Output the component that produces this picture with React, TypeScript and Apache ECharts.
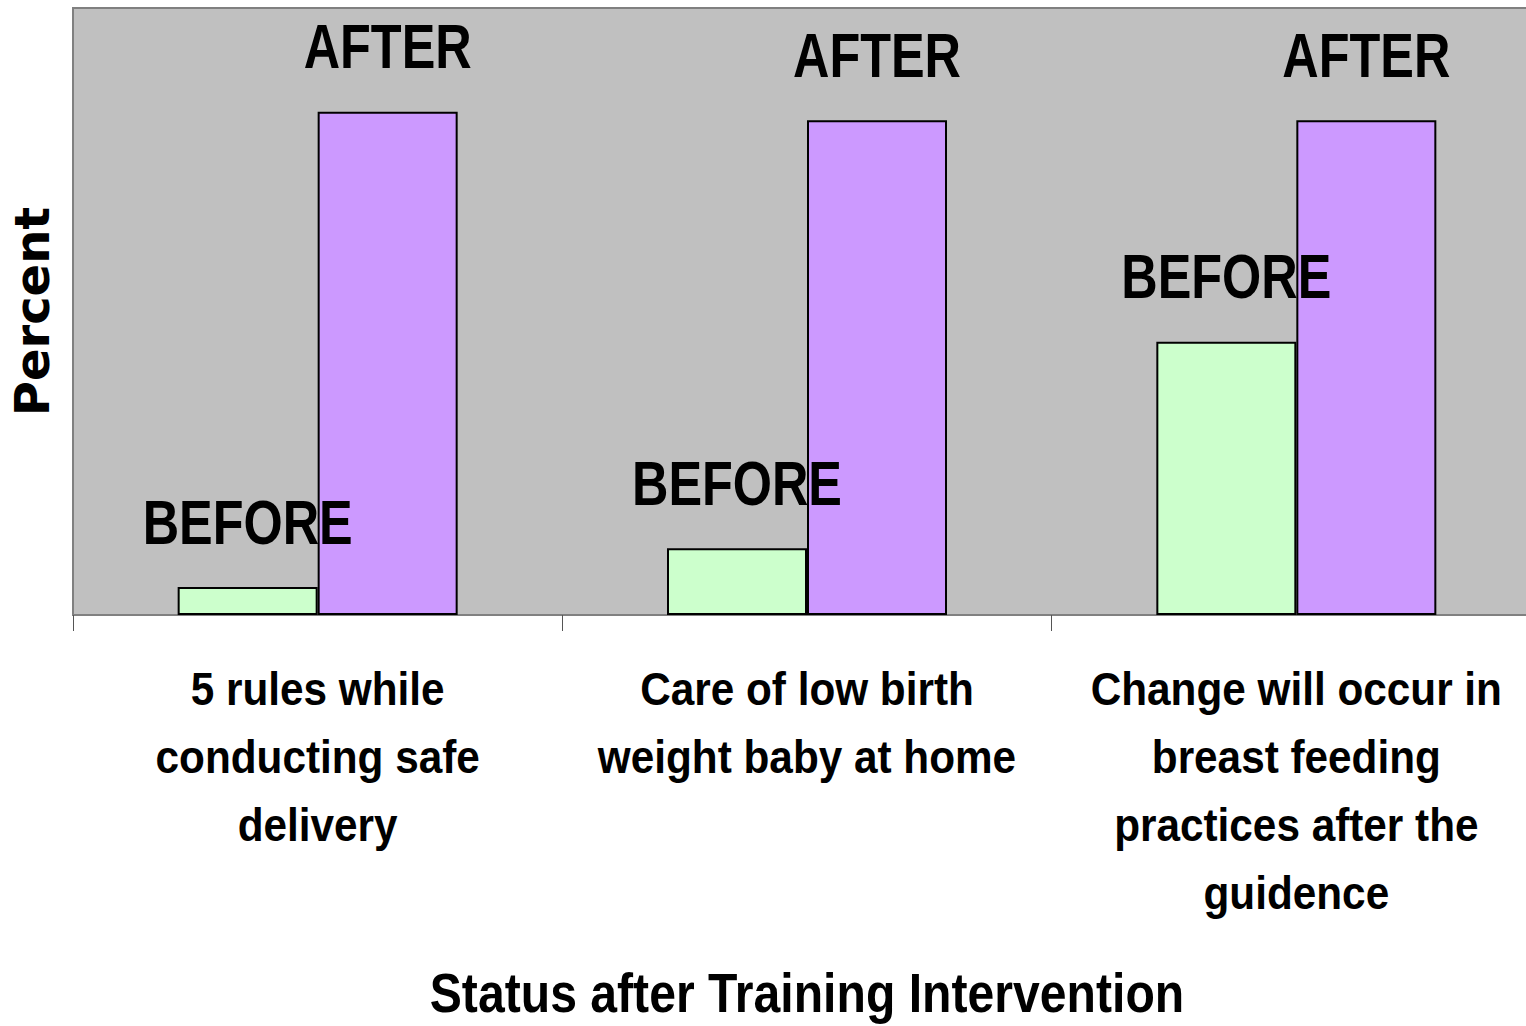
import React, { useEffect, useRef } from "react";
import * as echarts from "echarts";

const categories = [
  "5 rules while\nconducting safe\ndelivery",
  "Care of low birth\nweight baby at home",
  "Change will occur in\nbreast feeding\npractices after the\nguidence",
];
const beforeValues = [4.6, 11.0, 45.0];
const afterValues = [82.9, 81.5, 81.5];
const seriesNames = ["BEFORE", "AFTER"];
const xAxisTitle = "Status after Training Intervention";
const yAxisTitle = "Percent";

const FONT = "'Liberation Sans', Arial, sans-serif";
const BAR_WIDTH = 140;

export default function App() {
  const ref = useRef<HTMLDivElement>(null);
  useEffect(() => {
    document.body.style.margin = "0";
    const chart = echarts.init(ref.current!, null, { renderer: "svg" });
    chart.setOption({
      animation: false,
      backgroundColor: "#ffffff",
      grid: {
        left: 73,
        top: 8,
        right: -15,
        bottom: 411,
        outerBoundsMode: "none",
        containLabel: false,
        show: true,
        backgroundColor: "#C0C0C0",
        borderColor: "#808080",
        borderWidth: 2,
      },
      xAxis: {
        type: "category",
        data: categories,
        axisLine: { show: true, lineStyle: { color: "#808080", width: 2 } },
        axisTick: { show: true, length: 16, lineStyle: { color: "#555", width: 1 } },
        axisLabel: { show: false },
      },
      yAxis: {
        type: "value",
        min: 0,
        max: 100,
        name: yAxisTitle,
        nameLocation: "middle",
        nameGap: 17,
        nameRotate: 90,
        nameTextStyle: {
          fontFamily: "'DejaVu Sans', sans-serif",
          fontWeight: "bold",
          fontSize: 48,
          color: "#000",
        },
        axisLine: { show: false },
        axisTick: { show: false },
        axisLabel: { show: false },
        splitLine: { show: false },
      },
      series: [
        {
          name: seriesNames[0],
          type: "bar",
          data: beforeValues,
          barWidth: BAR_WIDTH,
          barGap: "0%",
          itemStyle: { color: "#CCFFCC", borderColor: "#000", borderWidth: 2 },
        },
        {
          name: seriesNames[1],
          type: "bar",
          data: afterValues,
          barWidth: BAR_WIDTH,
          barGap: "0%",
          itemStyle: { color: "#CC99FF", borderColor: "#000", borderWidth: 2 },
        },
      ],
    });

    const axisY = chart.convertToPixel({ yAxisIndex: 0 }, 0) as number;
    const graphics: any[] = [];
    const seriesValues = [beforeValues, afterValues];
    categories.forEach((cat, i) => {
      const cx = chart.convertToPixel({ xAxisIndex: 0 }, i) as number;
      graphics.push({
        type: "text",
        x: cx,
        y: axisY + 40,
        scaleX: 0.9,
        z: 100,
        style: {
          text: cat,
          x: 0,
          y: 0,
          align: "center",
          verticalAlign: "top",
          fontFamily: FONT,
          fontWeight: "bold",
          fontSize: 47,
          lineHeight: 68,
          fill: "#000",
        },
      });
      seriesValues.forEach((vals, s) => {
        const top = chart.convertToPixel({ yAxisIndex: 0 }, vals[i]) as number;
        const bx = cx + (s === 0 ? -BAR_WIDTH / 2 : BAR_WIDTH / 2);
        graphics.push({
          type: "text",
          x: bx,
          y: top - 34,
          scaleX: 0.8,
          z: 100,
          style: {
            text: seriesNames[s],
            x: 0,
            y: 0,
            align: "center",
            verticalAlign: "bottom",
            fontFamily: FONT,
            fontWeight: "bold",
            fontSize: 63,
            fill: "#000",
          },
        });
      });
    });
    const midX = chart.convertToPixel({ xAxisIndex: 0 }, 1) as number;
    graphics.push({
      type: "text",
      x: midX,
      y: 993,
      scaleX: 0.86,
      z: 100,
      style: {
        text: xAxisTitle,
        x: 0,
        y: 0,
        align: "center",
        verticalAlign: "middle",
        fontFamily: FONT,
        fontWeight: "bold",
        fontSize: 56,
        fill: "#000",
      },
    });
    chart.setOption({ graphic: graphics });
    return () => chart.dispose();
  }, []);
  return (
    <div
      ref={ref}
      style={{ position: "absolute", left: 0, top: 0, width: 1526, height: 1026 }}
    />
  );
}
